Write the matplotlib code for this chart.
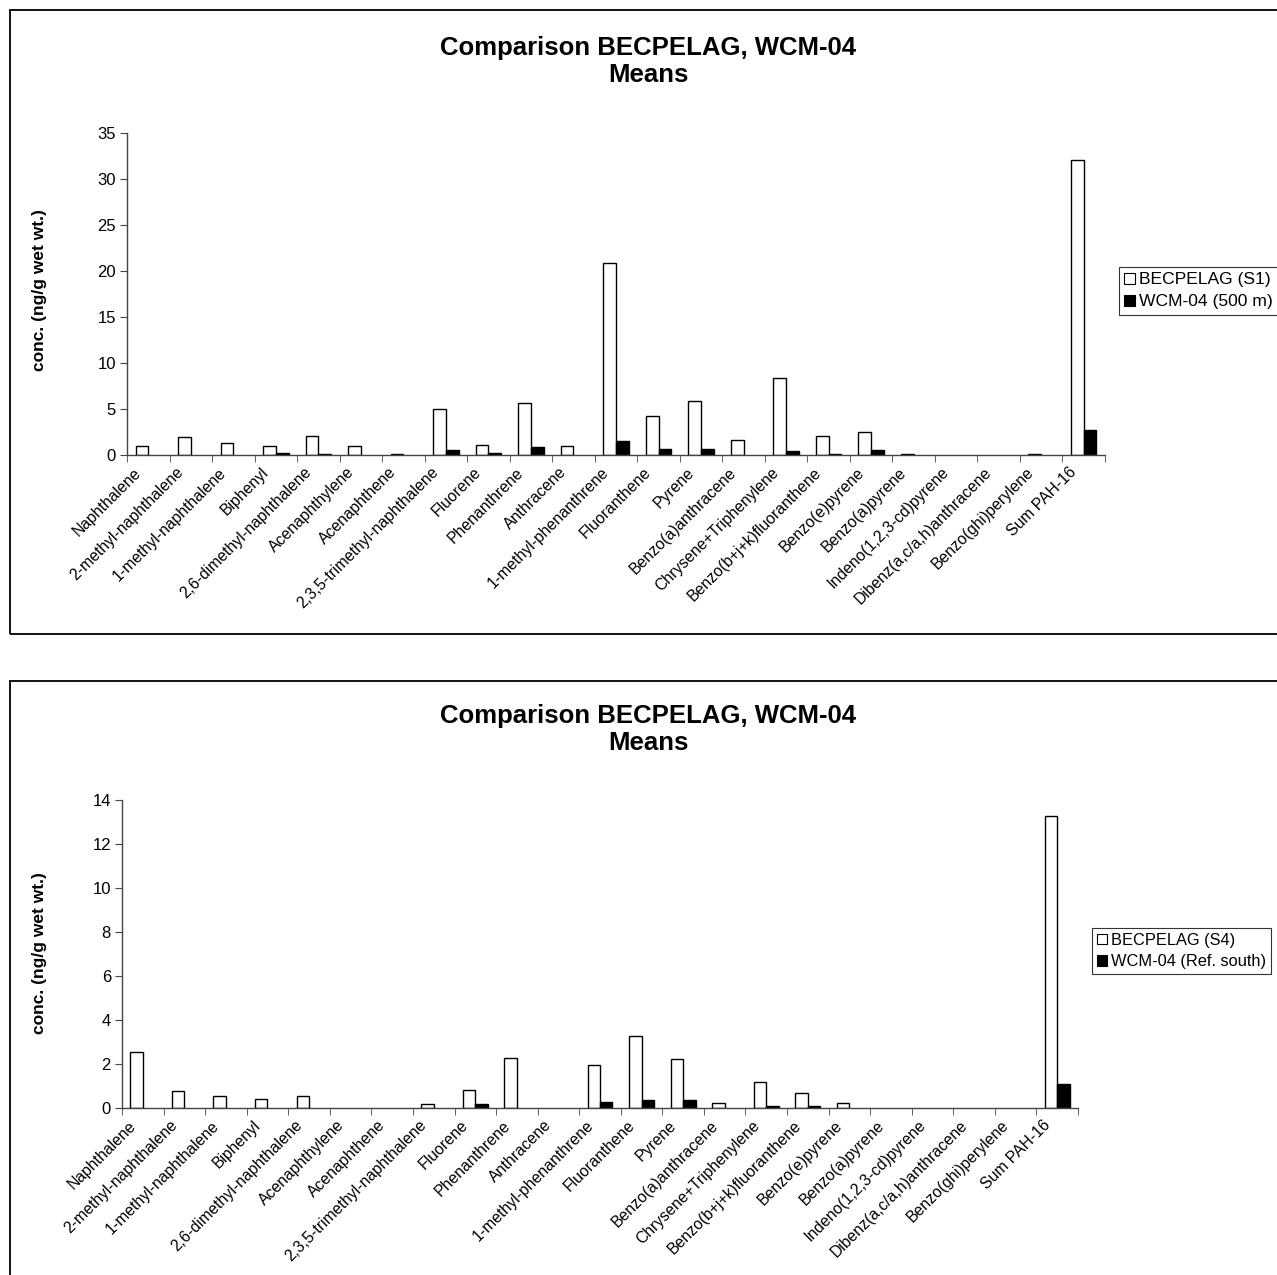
import matplotlib
matplotlib.use('Agg')
import matplotlib.pyplot as plt
import numpy as np
from matplotlib.patches import Patch, Rectangle

plt.rcParams['font.family'] = ['Liberation Sans', 'DejaVu Sans']

categories = ['Naphthalene', '2-methyl-naphthalene', '1-methyl-naphthalene', 'Biphenyl',
              '2,6-dimethyl-naphthalene', 'Acenaphthylene', 'Acenaphthene',
              '2,3,5-trimethyl-naphthalene', 'Fluorene', 'Phenanthrene', 'Anthracene',
              '1-methyl-phenanthrene', 'Fluoranthene', 'Pyrene', 'Benzo(a)anthracene',
              'Chrysene+Triphenylene', 'Benzo(b+j+k)fluoranthene', 'Benzo(e)pyrene',
              'Benzo(a)pyrene', 'Indeno(1,2,3-cd)pyrene', 'Dibenz(a,c/a,h)anthracene',
              'Benzo(ghi)perylene', 'Sum PAH-16']

# top chart
becpelag_s1 = [0.95, 1.93, 1.35, 0.95, 2.07, 0.95, 0.15, 4.98, 1.09, 5.67, 0.95, 20.84,
               4.29, 5.82, 1.64, 8.36, 2.07, 2.47, 0.12, 0, 0, 0.12, 32.1]
wcm_500m = [0, 0, 0, 0.18, 0.15, 0, 0, 0.58, 0.18, 0.84, 0, 1.53,
            0.69, 0.69, 0, 0.40, 0.15, 0.55, 0, 0, 0, 0, 2.76]

# bottom chart
becpelag_s4 = [2.55, 0.77, 0.56, 0.39, 0.56, 0, 0, 0.17, 0.83, 2.26, 0, 1.95,
               3.27, 2.22, 0.23, 1.16, 0.68, 0.23, 0, 0, 0, 0, 13.29]
wcm_south = [0, 0, 0, 0, 0, 0, 0, 0, 0.17, 0, 0, 0.29,
             0.35, 0.35, 0, 0.10, 0.10, 0, 0, 0, 0, 0, 1.07]

W, H = 1277, 1275
fig = plt.figure(figsize=(W / 100, H / 100), dpi=100)


def fx(x):
    return x / W


def fy(y):
    return 1 - y / H


def panel(box, frame, s1, s2, names, ymax, ystep, ylab_y, title_y, leg_xy, leg_size):
    left, top, right, bottom = box
    ax = fig.add_axes([fx(left), fy(bottom), fx(right) - fx(left), fy(top) - fy(bottom)])
    x = np.arange(len(categories))
    w = 0.3
    a = np.array(s1, dtype=float)
    b = np.array(s2, dtype=float)
    ma = a > 0
    mb = b > 0
    ax.bar(x[ma] - w / 2, a[ma], w, color='white', edgecolor='black', linewidth=1)
    ax.bar(x[mb] + w / 2, b[mb], w, color='black', edgecolor='black', linewidth=1)
    ax.set_xlim(-0.5, len(categories) - 0.5)
    ax.set_ylim(0, ymax)
    ax.set_yticks(np.arange(0, ymax + 0.01, ystep))
    # labels sit a little left of the category centre, like the Excel original
    ax.set_xticks(x - 0.35)
    ax.set_xticklabels(categories, rotation=45, ha='right', rotation_mode='anchor', fontsize=11.3)
    ax.set_xticks(np.arange(-0.5, len(categories), 1), minor=True)
    ax.tick_params(axis='x', which='major', length=0, pad=7)
    ax.tick_params(axis='x', which='minor', length=5, direction='out', color='#444444')
    ax.tick_params(axis='y', length=5, direction='out', color='#444444', labelsize=12, pad=3)
    for s in ['top', 'right']:
        ax.spines[s].set_visible(False)
    for s in ['left', 'bottom']:
        ax.spines[s].set_color('#444444')
        ax.spines[s].set_linewidth(1)
    ax.patch.set_visible(False)

    fl, ft, fb = frame
    fig.add_artist(Rectangle((fx(fl), fy(fb)), fx(1300) - fx(fl), fy(ft) - fy(fb),
                             transform=fig.transFigure, fill=False, ec='black', lw=1.3))
    fig.text(fx(648), fy(title_y), 'Comparison BECPELAG, WCM-04', ha='center', va='center',
             fontsize=18.5, fontweight='bold')
    fig.text(fx(648), fy(title_y + 27), 'Means', ha='center', va='center',
             fontsize=18.5, fontweight='bold')
    fig.text(fx(40), fy(ylab_y), 'conc. (ng/g wet wt.)', rotation=90, ha='center', va='center',
             fontsize=12.5, fontweight='bold')
    handles = [Patch(facecolor='white', edgecolor='black', lw=0.8, label=names[0]),
               Patch(facecolor='black', edgecolor='black', lw=0.8, label=names[1])]
    leg = fig.legend(handles=handles, loc='upper left', bbox_to_anchor=(fx(leg_xy[0]), fy(leg_xy[1])),
                     frameon=True, fancybox=False, edgecolor='black', fontsize=leg_size,
                     handlelength=0.6, handleheight=0.6, handletextpad=0.25,
                     borderpad=0.3, labelspacing=0.4, borderaxespad=0)
    leg.get_frame().set_linewidth(0.8)
    return ax


panel((127, 133, 1105, 455), (10, 10, 634), becpelag_s1, wcm_500m,
      ['BECPELAG (S1)', 'WCM-04 (500 m)'], 35, 5, 290, 48, (1119, 267), 12.6)
panel((122, 800, 1078, 1108), (10, 681, 1300), becpelag_s4, wcm_south,
      ['BECPELAG (S4)', 'WCM-04 (Ref. south)'], 14, 2, 953, 716, (1092, 928), 11.8)

fig.savefig('out.png', dpi=100)
